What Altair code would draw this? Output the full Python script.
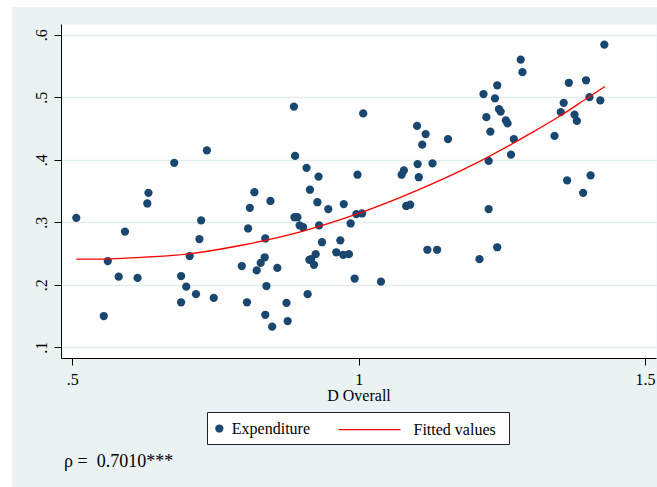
import altair as alt
import pandas as pd

FONT = "Liberation Serif"

# Scatter: D Overall (x) vs Expenditure (y)
d_overall = [0.507, 0.555, 0.562, 0.581, 0.592, 0.614, 0.631, 0.633, 0.678, 0.735,
             0.690, 0.690, 0.699, 0.716, 0.705, 0.722, 0.725, 0.747, 0.887, 0.889,
             0.909, 0.930, 0.915, 0.928, 0.947, 0.974, 0.998, 0.996, 1.006, 0.986,
             0.968, 0.961, 0.973, 0.983, 0.993, 0.936, 0.931, 0.903, 0.897, 0.888,
             0.893, 0.925, 0.914, 0.922, 0.911, 0.876, 0.874, 0.849, 0.837, 0.839,
             0.858, 0.836, 0.829, 0.822, 0.796, 0.805, 0.837, 0.807, 0.810, 0.818,
             0.846, 1.008, 1.102, 1.117, 1.111, 1.156, 1.103, 1.129, 1.105, 1.079,
             1.075, 1.083, 1.090, 1.120, 1.137, 1.039, 1.283, 1.286, 1.242, 1.218,
             1.238, 1.245, 1.248, 1.223, 1.257, 1.260, 1.230, 1.271, 1.266, 1.227,
             1.227, 1.242, 1.211, 1.342, 1.429, 1.367, 1.397, 1.358, 1.403, 1.422,
             1.353, 1.377, 1.381, 1.364, 1.405, 1.392, 0.917]
expenditure = [0.307, 0.150, 0.238, 0.213, 0.285, 0.211, 0.330, 0.347, 0.395, 0.415,
               0.214, 0.172, 0.197, 0.185, 0.246, 0.273, 0.303, 0.179, 0.485, 0.406,
               0.387, 0.373, 0.352, 0.332, 0.321, 0.329, 0.376, 0.313, 0.314, 0.298,
               0.271, 0.252, 0.248, 0.249, 0.210, 0.268, 0.295, 0.292, 0.295, 0.308,
               0.308, 0.249, 0.240, 0.232, 0.185, 0.142, 0.171, 0.133, 0.152, 0.198,
               0.227, 0.244, 0.235, 0.223, 0.230, 0.172, 0.274, 0.290, 0.323, 0.348,
               0.334, 0.474, 0.454, 0.441, 0.424, 0.433, 0.393, 0.394, 0.372, 0.383,
               0.376, 0.326, 0.328, 0.256, 0.256, 0.205, 0.560, 0.540, 0.519, 0.505,
               0.498, 0.481, 0.477, 0.468, 0.463, 0.458, 0.445, 0.433, 0.408, 0.398,
               0.321, 0.260, 0.241, 0.438, 0.584, 0.523, 0.527, 0.491, 0.500, 0.495,
               0.476, 0.472, 0.462, 0.367, 0.375, 0.347, 0.241]

# Fitted values curve
fit_x = [0.507, 0.55, 0.6, 0.7, 0.8, 0.9, 1.0, 1.1, 1.2, 1.3, 1.35, 1.4, 1.43]
fit_y = [0.241, 0.241, 0.243, 0.249, 0.264, 0.285, 0.314, 0.350, 0.392, 0.442, 0.469, 0.499, 0.517]

series = ["Expenditure", "Fitted values"]
x_ticks = [0.5, 1.0, 1.5]
x_tick_labels = [".5", "1", "1.5"]
y_ticks = [0.1, 0.2, 0.3, 0.4, 0.5, 0.6]
y_tick_labels = [".1", ".2", ".3", ".4", ".5", ".6"]
x_title = "D Overall"
rho_text = "ρ = \u00a00.7010***"

NAVY = "#1a476f"
RED = "#ff0000"
BG = "#eaf2f3"
PT_SIZE = 68


def label_expr(vals, labels):
    parts = [f"datum.value == {v} ? '{l}'" for v, l in zip(vals, labels)]
    return " : ".join(parts) + " : ''"


scatter_df = pd.DataFrame({"x": d_overall, "y": expenditure, "series": series[0]})
fit_df = pd.DataFrame({"x": fit_x, "y": fit_y, "series": series[1]})
one = pd.DataFrame({"t": [rho_text]})

x_scale = alt.Scale(domain=[0.4803, 1.5192], nice=False, zero=False)
y_scale = alt.Scale(domain=[0.0829, 0.6170], nice=False, zero=False)

x_axis = alt.Axis(values=x_ticks, labelExpr=label_expr(x_ticks, x_tick_labels),
                  title=x_title, grid=False, tickSize=7, labelPadding=6,
                  titlePadding=0)
y_axis = alt.Axis(values=y_ticks, labelExpr=label_expr(y_ticks, y_tick_labels),
                  title=None, grid=True, gridColor="#e3ecef", gridWidth=1.5,
                  tickSize=7, labelAngle=270, labelAlign="center",
                  labelBaseline="alphabetic", labelPadding=8)

legend_common = dict(
    title=None, orient="none", direction="horizontal", padding=0, zindex=1,
    labelFont=FONT, labelFontSize=16, labelColor="black", labelLimit=0,
    symbolStrokeWidth=1.3, symbolOpacity=1,
)
legend_pts = alt.Legend(legendX=150.35, legendY=396.5, labelOffset=4.5,
                        symbolSize=PT_SIZE, symbolType="circle", **legend_common)
legend_fit = alt.Legend(legendX=276.5, legendY=373.6, labelOffset=12,
                        symbolSize=3844, symbolType="stroke", **legend_common)

# White outer margin strips (graph region starts a few pixels in)
margin_top = alt.Chart(one).mark_rect(color="white").encode(
    x=alt.value(-61), x2=alt.value(600), y=alt.value(-24), y2=alt.value(-17))
margin_left = alt.Chart(one).mark_rect(color="white").encode(
    x=alt.value(-61), x2=alt.value(-49), y=alt.value(-24), y2=alt.value(470))
# Legend frame
legend_box = alt.Chart(one).mark_rect(fill="white", stroke="#222222", strokeWidth=1).encode(
    x=alt.value(146.5), x2=alt.value(448.5), y=alt.value(388.5), y2=alt.value(420.5))

points = alt.Chart(scatter_df).mark_point(filled=True, opacity=1, size=PT_SIZE).encode(
    x=alt.X("x:Q", scale=x_scale, axis=x_axis),
    y=alt.Y("y:Q", scale=y_scale, axis=y_axis),
    fill=alt.Fill("series:N", scale=alt.Scale(domain=[series[0]], range=[NAVY]),
                  legend=legend_pts),
)

line = alt.Chart(fit_df).mark_line(strokeWidth=1.3, interpolate="monotone").encode(
    x=alt.X("x:Q", scale=x_scale),
    y=alt.Y("y:Q", scale=y_scale),
    stroke=alt.Stroke("series:N", scale=alt.Scale(domain=[series[1]], range=[RED]),
                      legend=legend_fit),
)

rho = alt.Chart(one).mark_text(align="left", baseline="alphabetic", font=FONT,
                               fontSize=18, color="black").encode(
    x=alt.value(3), y=alt.value(443.3), text="t:N")

chart = alt.layer(margin_top, margin_left, legend_box, points, line, rho).properties(
    width=595, height=334,
    autosize=alt.AutoSizeParams(type="none"),
    padding={"left": 61, "top": 24, "right": 1, "bottom": 129},
    background=BG,
).resolve_scale(
    fill="independent", stroke="independent"
).configure_view(
    fill="white", stroke="transparent"
).configure_axis(
    domainColor="black", domainWidth=1, tickColor="black", tickWidth=1,
    labelFont=FONT, labelFontSize=16, labelColor="black",
    titleFont=FONT, titleFontSize=16, titleFontWeight="normal", titleColor="black",
)

chart.save("out.html", embed_options={"renderer": "svg", "actions": False})
